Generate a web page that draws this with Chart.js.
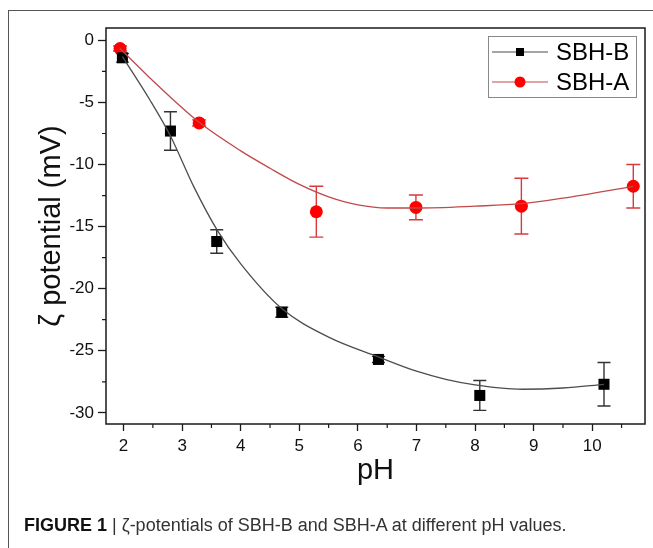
<!DOCTYPE html>
<html>
<head>
<meta charset="utf-8">
<script src="https://cdn.jsdelivr.net/npm/chart.js@4.4.1/dist/chart.umd.min.js"></script>
<style>
  html, body { margin: 0; padding: 0; background: #fff; }
  #wrap { position: relative; width: 653px; height: 548px; overflow: hidden; }
  #frame { position: absolute; left: 8px; top: 10px; width: 700px; height: 600px; border: 1px solid #555; box-sizing: border-box; }
  #chart { position: absolute; left: 0; top: 0; }
  #caption { position: absolute; left: 24px; top: 515px; font-family: "Liberation Sans Narrow", "Liberation Sans", Arial, sans-serif; font-size: 18px; color: #333; white-space: nowrap; }
  #caption b { color: #111; }
</style>
</head>
<body>
<div id="wrap">
  <div id="frame"></div>
  <canvas id="chart" width="653" height="548"></canvas>
  <div id="caption"><b>FIGURE 1</b> | ζ-potentials of SBH-B and SBH-A at different pH values.</div>
</div>
<script>
// measured points (pH, zeta potential in mV, error)
const phB = [1.98, 2.80, 3.59, 4.70, 6.35, 8.08, 10.20];
const zetaB = [-1.4, -7.3, -16.2, -21.9, -25.7, -28.6, -27.7];
const errB = [0.35, 1.55, 0.95, 0.4, 0.25, 1.2, 1.75];

const phA = [1.94, 3.29, 5.29, 6.99, 8.79, 10.70];
const zetaA = [-0.65, -6.65, -13.8, -13.45, -13.35, -11.75];
const errA = [0.2, 0.25, 2.05, 1.0, 2.25, 1.75];

// fitted curves
const fitPhB = [1.98, 2.45, 2.8, 3.2, 3.6, 4.0, 4.7, 5.5, 6.35, 7.0, 7.5, 8.0, 8.8, 9.5, 10.2];
const fitZetaB = [-1.3, -4.8, -7.7, -11.8, -15.3, -18.0, -21.6, -23.9, -25.5, -26.65, -27.3, -27.75, -28.1, -28.0, -27.7];
const fitPhA = [1.94, 2.6, 3.29, 4.0, 4.5, 5.0, 5.5, 6.0, 6.5, 7.0, 8.0, 8.8, 9.5, 10.7];
const fitZetaA = [-0.65, -3.7, -6.6, -8.9, -10.3, -11.6, -12.6, -13.25, -13.5, -13.5, -13.35, -13.15, -12.7, -11.75];

// axis ticks
const xTicks = [2, 3, 4, 5, 6, 7, 8, 9, 10];
const xMinor = [2.5, 3.5, 4.5, 5.5, 6.5, 7.5, 8.5, 9.5, 10.5];
const yTicks = [0, -5, -10, -15, -20, -25, -30];
const yMinor = [-2.5, -7.5, -12.5, -17.5, -22.5, -27.5];

const seriesNames = ['SBH-B', 'SBH-A'];

const colB = '#000000', lineB = '#4d4d4d', barB = '#333333';
const colA = '#ff0000', lineA = '#c04a4a', barA = '#d83a3a';

const toXY = (xs, ys) => xs.map((x, i) => ({ x: x, y: ys[i] }));

// error bars, minor ticks, plot box and legend
const extras = {
    id: 'extras',
    beforeDatasetsDraw(chart) {
        const ctx = chart.ctx;
        const x = chart.scales.x, y = chart.scales.y;
        const bars = [[phB, zetaB, errB, barB, 6.5], [phA, zetaA, errA, barA, 7]];
        ctx.save();
        bars.forEach(([xs, ys, es, color, cap]) => {
            ctx.strokeStyle = color;
            ctx.lineWidth = 1.4;
            xs.forEach((v, i) => {
                const px = x.getPixelForValue(v);
                const top = y.getPixelForValue(ys[i] + es[i]);
                const bot = y.getPixelForValue(ys[i] - es[i]);
                ctx.beginPath();
                ctx.moveTo(px, top); ctx.lineTo(px, bot);
                ctx.moveTo(px - cap, top); ctx.lineTo(px + cap, top);
                ctx.moveTo(px - cap, bot); ctx.lineTo(px + cap, bot);
                ctx.stroke();
            });
        });
        ctx.restore();
    },
    afterDraw(chart) {
        const ctx = chart.ctx;
        const a = chart.chartArea;
        const x = chart.scales.x, y = chart.scales.y;
        ctx.save();
        ctx.strokeStyle = '#1a1a1a';
        ctx.lineWidth = 1.5;
        ctx.strokeRect(a.left, a.top, a.right - a.left, a.bottom - a.top);

        ctx.lineWidth = 1.2;
        ctx.beginPath();
        xMinor.forEach(v => {
            const px = x.getPixelForValue(v);
            ctx.moveTo(px, a.bottom); ctx.lineTo(px, a.bottom + 4);
        });
        yMinor.forEach(v => {
            const py = y.getPixelForValue(v);
            ctx.moveTo(a.left, py); ctx.lineTo(a.left - 4, py);
        });
        ctx.stroke();

        // legend box
        const lx = 488, ly = 36, lw = 148, lh = 61;
        ctx.strokeStyle = '#888';
        ctx.lineWidth = 1;
        ctx.strokeRect(lx + 0.5, ly + 0.5, lw, lh);
        const rows = [[lineB, colB, 'rect'], [lineA, colA, 'circle']];
        ctx.font = '24px "Liberation Sans", Arial, sans-serif';
        ctx.textBaseline = 'middle';
        rows.forEach(([lc, pc, shape], i) => {
            const cy = ly + 16 + i * 30;
            ctx.strokeStyle = lc;
            ctx.lineWidth = 1.2;
            ctx.beginPath();
            ctx.moveTo(lx + 4, cy); ctx.lineTo(lx + 60, cy);
            ctx.stroke();
            ctx.fillStyle = pc;
            if (shape === 'rect') {
                ctx.fillRect(lx + 32 - 4, cy - 4, 8, 8);
            } else {
                ctx.beginPath();
                ctx.arc(lx + 32, cy, 5.5, 0, Math.PI * 2);
                ctx.fill();
            }
            ctx.fillStyle = '#000';
            ctx.fillText(seriesNames[i], lx + 68, cy + 1);
        });
        ctx.restore();
    }
};

new Chart(document.getElementById('chart'), {
    type: 'scatter',
    data: {
        datasets: [
            {
                label: seriesNames[0] + ' fit',
                data: toXY(fitPhB, fitZetaB),
                showLine: true,
                borderColor: lineB,
                borderWidth: 1.3,
                pointRadius: 0,
                cubicInterpolationMode: 'monotone'
            },
            {
                label: seriesNames[1] + ' fit',
                data: toXY(fitPhA, fitZetaA),
                showLine: true,
                borderColor: lineA,
                borderWidth: 1.3,
                pointRadius: 0,
                cubicInterpolationMode: 'monotone'
            },
            {
                label: seriesNames[0],
                data: toXY(phB, zetaB),
                pointStyle: 'rect',
                pointRadius: 7.8,
                backgroundColor: colB,
                borderColor: colB,
                borderWidth: 0
            },
            {
                label: seriesNames[1],
                data: toXY(phA, zetaA),
                pointStyle: 'circle',
                pointRadius: 6.5,
                backgroundColor: colA,
                borderColor: colA,
                borderWidth: 0
            }
        ]
    },
    options: {
        responsive: false,
        animation: false,
        layout: { padding: { left: 0, top: 28, right: 8, bottom: 0 } },
        plugins: {
            legend: { display: false },
            tooltip: { enabled: false }
        },
        scales: {
            x: {
                type: 'linear',
                min: 1.7,
                max: 10.9,
                afterFit: s => { s.height = 124; },
                afterBuildTicks: s => { s.ticks = xTicks.map(v => ({ value: v })); },
                grid: { drawOnChartArea: false, tickLength: 7, tickColor: '#1a1a1a', tickWidth: 1.3 },
                border: { display: false },
                ticks: {
                    color: '#111',
                    padding: 5,
                    font: { family: '"Liberation Sans", Arial, sans-serif', size: 17 }
                },
                title: {
                    display: true,
                    text: 'pH',
                    color: '#111',
                    font: { family: '"Liberation Sans", Arial, sans-serif', size: 29 },
                    padding: { top: 0, bottom: 60 }
                }
            },
            y: {
                type: 'linear',
                min: -30.9,
                max: 1,
                afterFit: s => { s.width = 106; },
                afterBuildTicks: s => { s.ticks = yTicks.map(v => ({ value: v })); },
                grid: { drawOnChartArea: false, tickLength: 8, tickColor: '#1a1a1a', tickWidth: 1.3 },
                border: { display: false },
                ticks: {
                    color: '#111',
                    padding: 4,
                    font: { family: '"Liberation Sans", Arial, sans-serif', size: 17 }
                },
                title: {
                    display: true,
                    text: 'ζ potential (mV)',
                    color: '#111',
                    font: { family: '"Liberation Sans", Arial, sans-serif', size: 29 },
                    padding: { top: 35, bottom: 0 }
                }
            }
        }
    },
    plugins: [extras]
});
</script>
</body>
</html>
